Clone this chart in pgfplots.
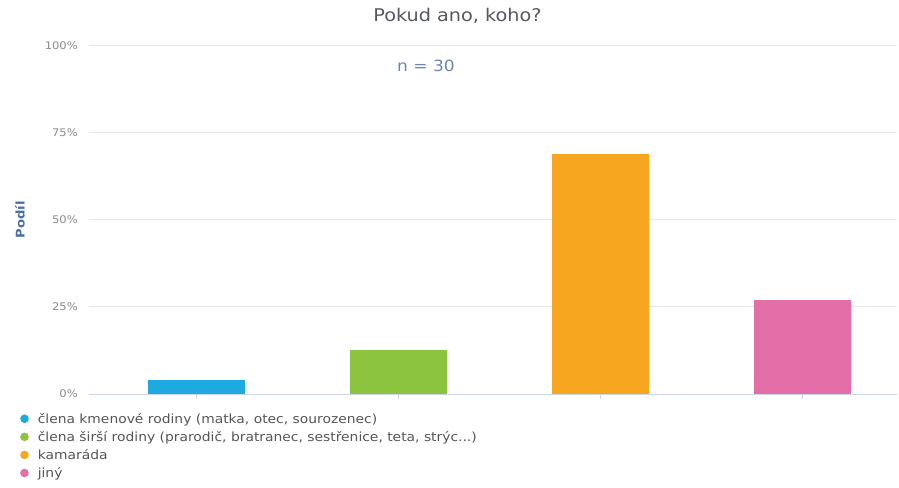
\documentclass[border=0pt]{standalone}
\usepackage{pgfplots}
\pgfplotsset{compat=1.18}
\usepackage{fontspec}
\setmainfont{DejaVu Sans}[FakeStretch=1.1]
\definecolor{cblue}{HTML}{1FA9E1}
\definecolor{cgreen}{HTML}{8CC43F}
\definecolor{corange}{HTML}{F7A620}
\definecolor{cpink}{HTML}{E36EA8}
\definecolor{gridc}{HTML}{E6E6E6}
\definecolor{axisc}{HTML}{CCD6EB}
\definecolor{tickc}{HTML}{8A8A8A}
\definecolor{titlec}{HTML}{555A60}
\definecolor{legc}{HTML}{555555}
\definecolor{nc}{HTML}{6A84B4}
\definecolor{ylabc}{HTML}{4A6FA5}
\begin{document}
\begin{tikzpicture}
\useasboundingbox (-89pt,-93pt) rectangle (810pt,394pt);
\begin{axis}[
  at={(0,0)}, anchor=south west,
  scale only axis, width=808pt, height=348pt,
  xmin=-0.53, xmax=3.47, ymin=0, ymax=100,
  ybar, bar width=97pt, bar shift=0pt,
  xtick={0,1,2,3}, xticklabels={}, 
  xtick align=outside, major tick length=5pt,
  xtick style={draw=axisc, line width=0.8pt},
  ytick={0,25,50,75,100},
  ytick style={draw=none},
  axis x line*=bottom, axis y line*=left,
  x axis line style={draw=axisc, line width=1pt},
  y axis line style={draw=none},
  ymajorgrids, grid style={draw=gridc, line width=1pt},
  /pgf/number format/assume math mode=true,
  yticklabel={\pgfmathprintnumber{\tick}\%},
  yticklabel style={font=\fontsize{10.5}{12}\selectfont, text=tickc, inner xsep=0pt, xshift=-11pt},
  ylabel={\textbf{Podíl}},
  every axis y label/.style={at={(axis description cs:-0.0854,0.5)}, rotate=90, anchor=center, font=\fontsize{12}{14}\selectfont, text=ylabc},
  title={Pokud ano, koho?},
  every axis title/.style={at={(axis description cs:0.456,1.0718)}, anchor=base, font=\fontsize{17.5}{20}\selectfont, text=titlec},
  legend style={at={(axis description cs:-0.0854,-0.051)}, anchor=north west, draw=none, fill=none,
    font=\fontsize{12.6}{15}\selectfont, text=legc, row sep=4.5pt, inner xsep=0pt, inner ysep=0pt,
    nodes={inner sep=1pt}, /tikz/every odd column/.style={column sep=8pt}},
  legend cell align=left,
  legend image code/.code={\fill (4.5pt,0pt) circle (4.3pt);},
  clip=false,
]
\addplot[fill=cblue, draw=none] coordinates {(0,4.0)};
\addlegendentry{člena kmenové rodiny (matka, otec, sourozenec)}
\addplot[fill=cgreen, draw=none] coordinates {(1,12.6)};
\addlegendentry{člena širší rodiny (prarodič, bratranec, sestřenice, teta, strýc...)}
\addplot[fill=corange, draw=none] coordinates {(2,69.0)};
\addlegendentry{kamaráda}
\addplot[fill=cpink, draw=none] coordinates {(3,27.0)};
\addlegendentry{jiný}
\node[anchor=base, font=\fontsize{15.5}{18}\selectfont, text=nc] at (axis description cs:0.417,0.928) {n = 30};
\end{axis}
\end{tikzpicture}
\end{document}
